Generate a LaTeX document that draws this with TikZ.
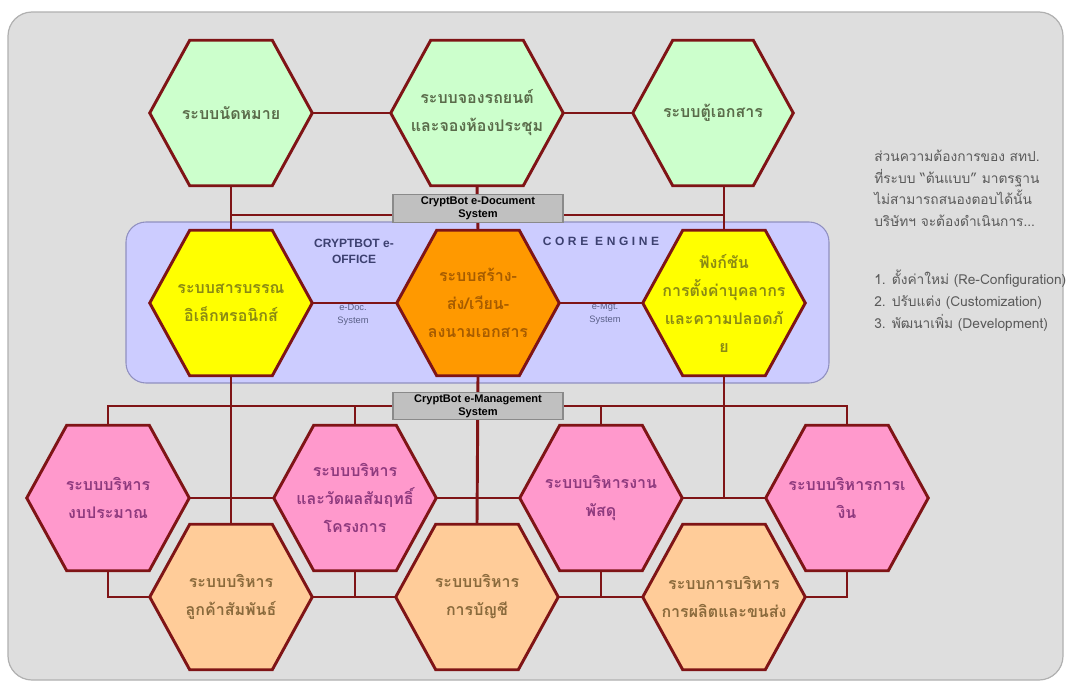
\documentclass[tikz,border=0pt]{standalone}
\usepackage{fontspec}
\setmainfont{Liberation Sans}
\newfontfamily\thai[Script=Thai]{Loma}
\usetikzlibrary{calc}
\definecolor{linered}{HTML}{7F1416}
\definecolor{bggray}{HTML}{DEDEDE}
\definecolor{bgedge}{HTML}{B0B0B0}
\definecolor{corefill}{HTML}{CCCCFF}
\definecolor{coreedge}{HTML}{9090C0}
\definecolor{hgreen}{HTML}{CCFFCC}
\definecolor{hyellow}{HTML}{FFFF00}
\definecolor{horange}{HTML}{FF9900}
\definecolor{hpink}{HTML}{FF99CC}
\definecolor{hpeach}{HTML}{FFCC99}
\definecolor{tgreen}{HTML}{5A6B4A}
\definecolor{tyellow}{HTML}{8A8A14}
\definecolor{torange}{HTML}{A65C00}
\definecolor{tpink}{HTML}{8E3A7E}
\definecolor{tpeach}{HTML}{8A6A3C}
\definecolor{navy}{HTML}{3C4070}
\definecolor{slate}{HTML}{5A6088}
\definecolor{boxgray}{HTML}{C0C0C0}
\definecolor{boxedge}{HTML}{8A8A8A}
\definecolor{notegray}{HTML}{5A5A5A}
\newcommand{\hexnode}[4]{%
  \node[hexbox, minimum width={2*#4*0.75pt}] (#1) at (#2,#3) {};}
\newcommand{\hexdraw}[4]{%
  \draw[hexline, fill=#2] (#1.west) -- ($(#1.north west)+(40,0)$) -- ($(#1.north east)+(-40,0)$)
    -- (#1.east) -- ($(#1.south east)+(-40,0)$) -- ($(#1.south west)+(40,0)$) -- cycle;
  \node[hextext, text=#3] (#1-t) at (#1.center) {#4};}
\begin{document}
\begin{tikzpicture}[x=0.75pt,y=-0.75pt,
  conn/.style={draw=linered, line width=2.2pt},
  hexline/.style={draw=linered, line width=2.2pt, line join=miter},
  hexbox/.style={rectangle, draw=none, inner sep=0pt, minimum height=108.75pt},
  hextext/.style={align=center, inner sep=0pt, font=\thai\bfseries\fontsize{12}{21}\selectfont},
  graybox/.style={rectangle, fill=boxgray, draw=boxedge, line width=0.8pt, inner sep=0pt,
    minimum width=127.5pt, minimum height=20.5pt, align=center,
    font=\bfseries\fontsize{8.3}{9.5}\selectfont},
  corelbl/.style={align=center, text=navy, inner sep=0pt, font=\bfseries\fontsize{9}{12}\selectfont},
  smalllbl/.style={align=center, text=slate, inner sep=0pt, font=\fontsize{7}{10}\selectfont},
  note/.style={align=left, text=notegray, inner sep=0pt, font=\thai\fontsize{10.3}{16.2}\selectfont}]
\useasboundingbox (0,0) rectangle (1068,682);
\fill[white] (0,0) rectangle (1068,682);
\draw[fill=bggray, draw=bgedge, line width=0.9pt, rounded corners=18pt] (8,12) rectangle (1063,680);
\draw[fill=corefill, draw=coreedge, line width=0.8pt, rounded corners=15pt] (126,222) rectangle (829,383);

% labels under the connectors
\node[corelbl] (office) at (354,251) {CRYPTBOT e-\\OFFICE};
\node[corelbl] (core) at (601,241) {\addfontfeature{LetterSpace=30}CORE ENGINE};
\node[smalllbl] (edoc) at (353,315) {e-Doc.\\System};
\node[smalllbl] (emgt) at (605,314) {e-Mgt.\\System};

% hexagon frames (invisible named nodes)
\hexnode{h1}{231}{113}{81}
\hexnode{h2}{477}{113}{86}
\hexnode{h3}{713}{113}{80}
\hexnode{yl}{231}{303}{81}
\hexnode{oc}{478}{303}{81}
\hexnode{ry}{724}{303}{81}
\hexnode{p1}{108}{498}{81}
\hexnode{p2}{355}{498}{81}
\hexnode{p3}{601}{498}{81}
\hexnode{p4}{847}{498}{81}
\hexnode{o1}{231}{597}{81}
\hexnode{o2}{477}{597}{81}
\hexnode{o3}{724}{597}{81}
\node[graybox] (gb1) at (478,208.5) {CryptBot e-Document\\System};
\node[graybox] (gb2) at (478,406) {CryptBot e-Management\\System};
\coordinate (docbus) at (0,215);

% connectors
\draw[conn] (h1.east) -- (h2.west);
\draw[conn] (h2.east) -- (h3.west);
\draw[conn] (h1.south) -- (yl.north);
\draw[conn] (h2.south) -- (oc.north);
\draw[conn] (ry.north |- h3.south) -- (ry.north);
\draw[conn] (h1.south |- docbus) -- (gb1.west |- docbus);
\draw[conn] (gb1.east |- docbus) -- (ry.north |- docbus);
\draw[conn] (yl.east) -- (oc.west);
\draw[conn] (oc.east) -- (ry.west);
\draw[conn] (p1.north) |- (gb2.west);
\draw[conn] (gb2.east) -| (p4.north);
\draw[conn] (p2.north) -- (p2.north |- gb2.west);
\draw[conn] (p3.north) -- (p3.north |- gb2.east);
\draw[conn] (yl.south) -- (o1.north);
\draw[conn] (oc.south) -- (o2.north);
\draw[conn] (ry.south) -- (ry.south |- p3.east);
\draw[conn] (p1.east) -- (p2.west);
\draw[conn] (p2.east) -- (p3.west);
\draw[conn] (p3.east) -- (p4.west);
\draw[conn] (p1.south) |- (o1.west);
\draw[conn] (o1.east) -- (o2.west);
\draw[conn] (p2.south) -- (p2.south |- o1.east);
\draw[conn] (o2.east) -- (o3.west);
\draw[conn] (p3.south) -- (p3.south |- o2.east);
\draw[conn] (p4.south) |- (o3.east);

% hexagons
\hexdraw{h1}{hgreen}{tgreen}{ระบบนัดหมาย}
\hexdraw{h2}{hgreen}{tgreen}{ระบบจองรถยนต์\\และจองห้องประชุม}
\hexdraw{h3}{hgreen}{tgreen}{ระบบตู้เอกสาร}
\hexdraw{yl}{hyellow}{tyellow}{ระบบสารบรรณ\\อิเล็กทรอนิกส์}
\hexdraw{oc}{horange}{torange}{ระบบสร้าง-\\ส่ง/เวียน-\\ลงนามเอกสาร}
\hexdraw{ry}{hyellow}{tyellow}{\fontsize{12}{18.5}\selectfont ฟังก์ชัน\\การตั้งค่าบุคลากร\\และความปลอดภั\\ย}
\hexdraw{p1}{hpink}{tpink}{ระบบบริหาร\\งบประมาณ}
\hexdraw{p2}{hpink}{tpink}{ระบบบริหาร\\และวัดผลสัมฤทธิ์\\โครงการ}
\hexdraw{p3}{hpink}{tpink}{ระบบบริหารงาน\\พัสดุ}
\hexdraw{p4}{hpink}{tpink}{ระบบบริหารการเ\\งิน}
\hexdraw{o1}{hpeach}{tpeach}{ระบบบริหาร\\ลูกค้าสัมพันธ์}
\hexdraw{o2}{hpeach}{tpeach}{ระบบบริหาร\\การบัญชี}
\hexdraw{o3}{hpeach}{tpeach}{ระบบการบริหาร\\การผลิตและขนส่ง}

% gray boxes on top
\node[graybox] (gb1b) at (gb1) {CryptBot e-Document\\System};
\node[graybox] (gb2b) at (gb2) {CryptBot e-Management\\System};

% side note
\node[note, anchor=north west] (req) at (874,150) {ส่วนความต้องการของ สทป.\\ที่ระบบ “ต้นแบบ” มาตรฐาน\\ไม่สามารถสนองตอบได้นั้น\\บริษัทฯ จะต้องดำเนินการ...};
\node[note, anchor=north west] (steps) at (874,270) {1. ตั้งค่าใหม่ (Re-Configuration)\\2. ปรับแต่ง (Customization)\\3. พัฒนาเพิ่ม (Development)};
\end{tikzpicture}
\end{document}
